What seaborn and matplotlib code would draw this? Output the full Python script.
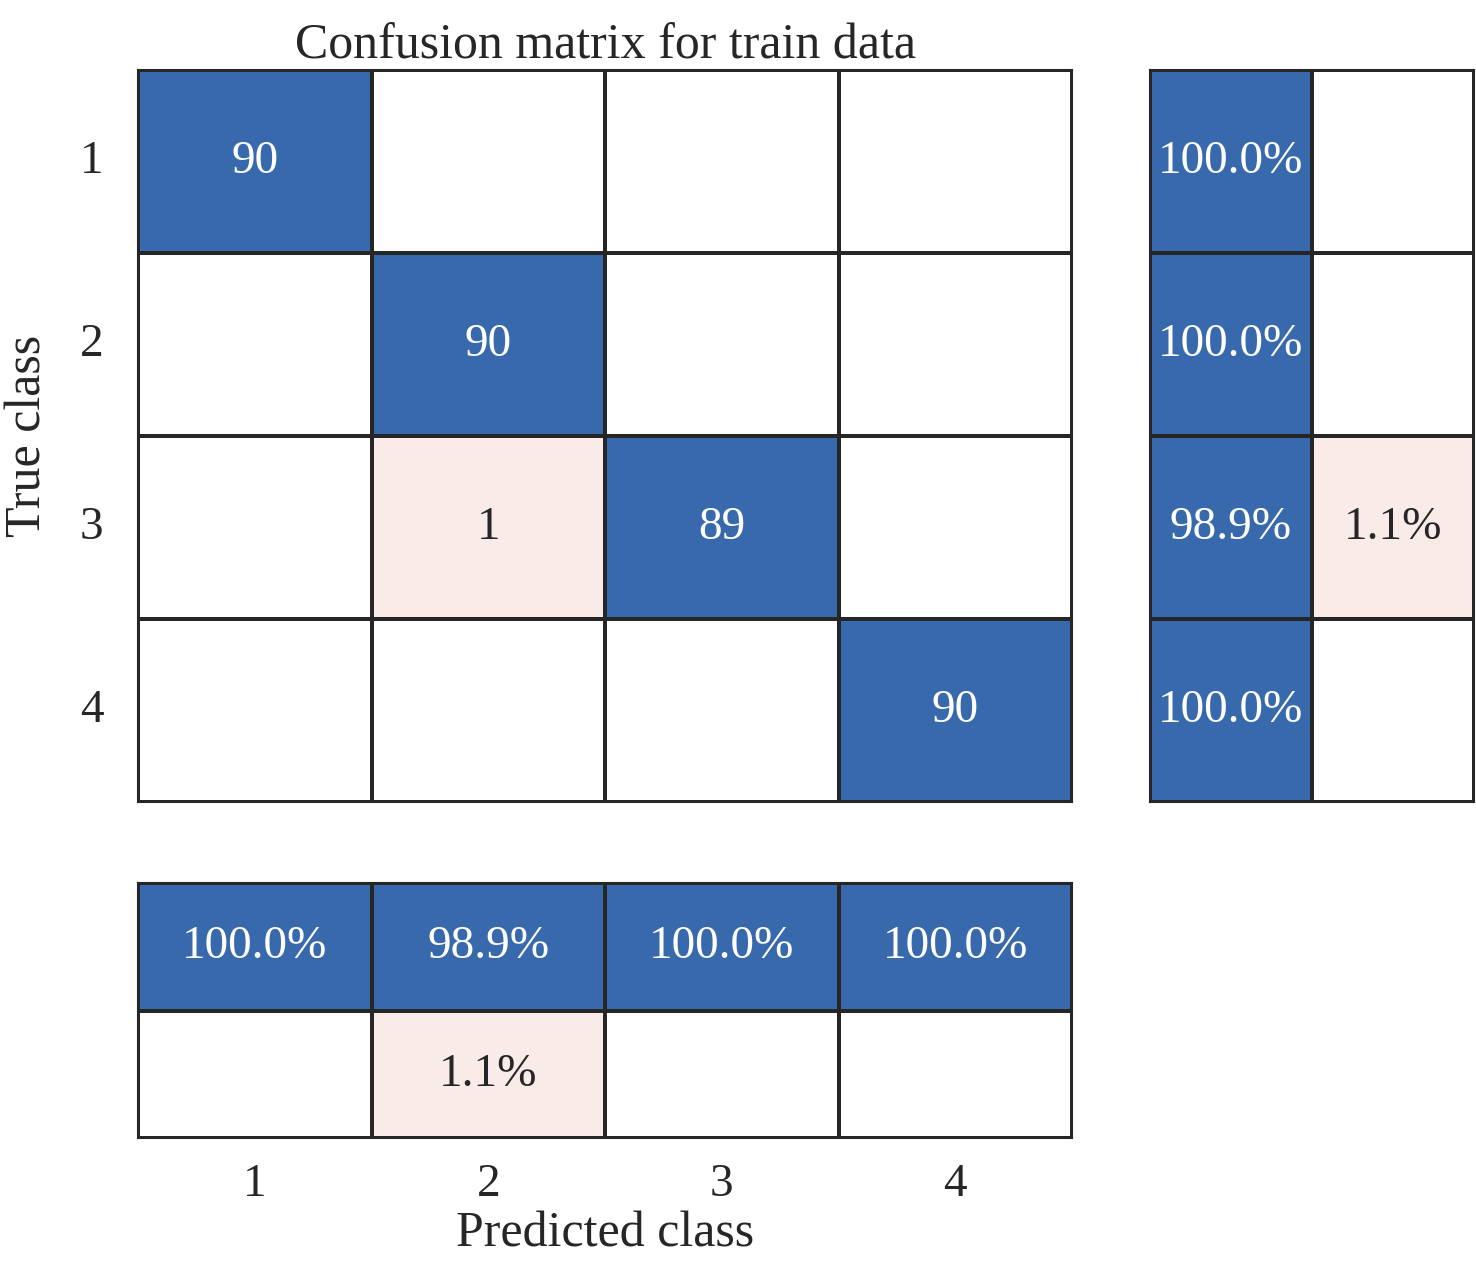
import numpy as np
import matplotlib
matplotlib.use("Agg")
import matplotlib.pyplot as plt
from matplotlib.colors import ListedColormap
import seaborn as sns

classes = ["1", "2", "3", "4"]
counts = np.array([[90, 0, 0, 0],
                   [0, 90, 0, 0],
                   [0, 1, 89, 0],
                   [0, 0, 0, 90]])
row_correct = [100.0, 100.0, 98.9, 100.0]
row_wrong = [0.0, 0.0, 1.1, 0.0]
col_correct = [100.0, 98.9, 100.0, 100.0]
col_wrong = [0.0, 1.1, 0.0, 0.0]

BLUE = "#3869AC"
PINK = "#F9EBE8"
cmap = ListedColormap(["white", PINK, BLUE])
FONT = "Liberation Serif"

sns.set_theme(style="white")
plt.rcParams["font.family"] = [FONT, "DejaVu Serif"]

fig = plt.figure(figsize=(14.76, 12.84), dpi=100)
ax_main = fig.add_axes([0.0935, 0.3754, 0.6328, 0.5701])
ax_row = fig.add_axes([0.7791, 0.3754, 0.2195, 0.5701])
ax_col = fig.add_axes([0.0935, 0.1137, 0.6328, 0.1986])


def codes(vals, correct):
    vals = np.asarray(vals, dtype=float)
    c = np.zeros(vals.shape)
    c[vals > 0] = 2 if correct is True else 1
    return c


def draw(ax, code, labels):
    sns.heatmap(code, ax=ax, cmap=cmap, vmin=0, vmax=2, cbar=False,
                linewidths=1.5, linecolor="#262626", annot=False)
    for (i, j), txt in np.ndenumerate(labels):
        if txt:
            ax.text(j + 0.5, i + 0.5, txt, ha="center", va="center",
                    fontsize=34, color="white" if code[i, j] == 2 else "#262626")
    for s in ax.spines.values():
        s.set_visible(True)
        s.set_color("#262626")
        s.set_linewidth(1.5)
    ax.set_xticks([])
    ax.set_yticks([])


# main matrix
main_code = np.where(counts > 0, np.where(np.eye(4) > 0, 2, 1), 0)
main_lab = np.array([[str(v) if v else "" for v in r] for r in counts])
draw(ax_main, main_code, main_lab)
ax_main.set_yticks(np.arange(4) + 0.5)
ax_main.set_yticklabels(classes, fontsize=34, rotation=0)
ax_main.tick_params(axis="y", length=0, pad=25)
ax_main.set_ylabel("True class", fontsize=36, labelpad=20)
ax_main.set_title("Confusion matrix for train data", fontsize=36, pad=8)

# row summary
rv = np.column_stack([row_correct, row_wrong])
rc = np.column_stack([codes(row_correct, True), codes(row_wrong, False)])
rl = np.array([[f"{v:.1f}%" if v else "" for v in r] for r in rv])
draw(ax_row, rc, rl)

# column summary
cv = np.vstack([col_correct, col_wrong])
cc = np.vstack([codes(col_correct, True), codes(col_wrong, False)])
cl = np.array([[f"{v:.1f}%" if v else "" for v in r] for r in cv])
draw(ax_col, cc, cl)
ax_col.set_xticks(np.arange(4) + 0.5)
ax_col.set_xticklabels(classes, fontsize=34)
ax_col.tick_params(axis="x", length=0, pad=18)
ax_col.set_xlabel("Predicted class", fontsize=36, labelpad=4)

fig.savefig("out.png", dpi=100)
